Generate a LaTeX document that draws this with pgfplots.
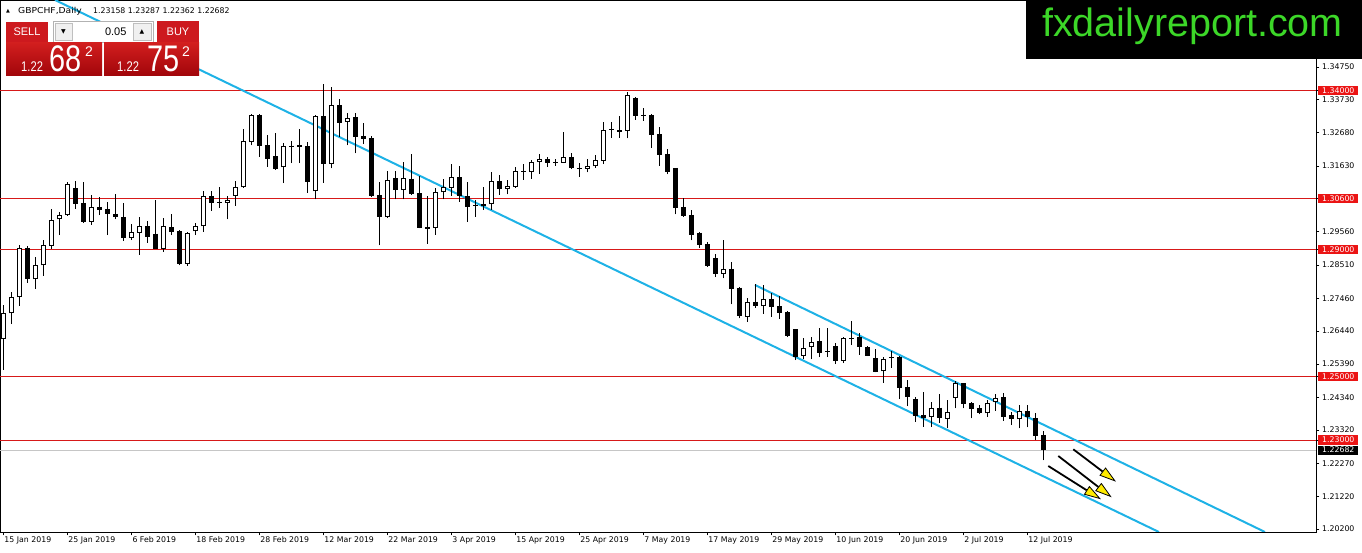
\documentclass[border=0pt]{standalone}
\usepackage{fontspec}
\setmainfont{DejaVu Sans}
\newfontfamily\logofont{Liberation Sans}
\usepackage{graphicx}
\usepackage{pgfplots}
\pgfplotsset{compat=1.18}
\usepackage{pgfplotstable}
\usetikzlibrary{arrows.meta}
\definecolor{chan}{RGB}{30,178,230}
\definecolor{lvl}{RGB}{215,25,25}
\definecolor{lbl}{RGB}{235,20,20}
\definecolor{logogreen}{RGB}{60,215,40}
\definecolor{btnred}{RGB}{205,25,30}
\definecolor{boxtop}{RGB}{210,30,30}
\definecolor{boxbot}{RGB}{160,5,10}
\definecolor{arrowyel}{RGB}{255,235,0}
\newcommand\tickfont{\fontsize{7.8pt}{9pt}\selectfont}

\pgfplotstableread{
x o h l c
0 1.2617 1.2725 1.2521 1.2699
1 1.2699 1.2766 1.2665 1.2751
2 1.2750 1.2914 1.2723 1.2905
4 1.2806 1.2877 1.2777 1.2850
5 1.2850 1.2930 1.2817 1.2913
6 1.2911 1.3027 1.2903 1.2992
7 1.2995 1.3018 1.2945 1.3008
8 1.3008 1.3113 1.3006 1.3106
11 1.2988 1.3071 1.2978 1.3033
16 1.2937 1.2980 1.2930 1.2955
17 1.2953 1.3002 1.2884 1.2973
20 1.2902 1.2998 1.2893 1.2973
23 1.2855 1.2955 1.2849 1.2951
24 1.2957 1.2985 1.2945 1.2973
25 1.2973 1.3084 1.2956 1.3068
28 1.3048 1.3070 1.2995 1.3055
29 1.3070 1.3116 1.3038 1.3096
30 1.3096 1.3279 1.3094 1.3241
31 1.3238 1.3328 1.3228 1.3324
35 1.3159 1.3237 1.3109 1.3225
39 1.3083 1.3323 1.3058 1.3320
41 1.3169 1.3411 1.3156 1.3355
43 1.3301 1.3329 1.3228 1.3313
48 1.3002 1.3146 1.2999 1.3119
50 1.3087 1.3175 1.3058 1.3124
54 1.2969 1.3094 1.2946 1.3080
55 1.3080 1.3121 1.3058 1.3098
56 1.3095 1.3169 1.3070 1.3128
61 1.3042 1.3144 1.3025 1.3116
63 1.3090 1.3119 1.3074 1.3099
64 1.3098 1.3161 1.3094 1.3146
66 1.3144 1.3181 1.3123 1.3176
67 1.3175 1.3201 1.3139 1.3184
70 1.3174 1.3270 1.3172 1.3191
73 1.3154 1.3185 1.3143 1.3163
74 1.3162 1.3198 1.3158 1.3181
75 1.3179 1.3303 1.3169 1.3276
78 1.3273 1.3397 1.3250 1.3387
90 1.2824 1.2930 1.2809 1.2839
93 1.2689 1.2746 1.2673 1.2734
95 1.2721 1.2788 1.2697 1.2743
100 1.2564 1.2620 1.2554 1.2591
101 1.2592 1.2625 1.2554 1.2610
105 1.2550 1.2625 1.2542 1.2620
110 1.2516 1.2562 1.2481 1.2555
116 1.2372 1.2421 1.2342 1.2402
118 1.2367 1.2426 1.2337 1.2389
119 1.2433 1.2487 1.2400 1.2479
123 1.2384 1.2426 1.2373 1.2416
124 1.2419 1.2444 1.2392 1.2433
127 1.2365 1.2410 1.2337 1.2392
}\bull

\pgfplotstableread{
x o h l c
3 1.2905 1.2911 1.2796 1.2808
9 1.3093 1.3115 1.3029 1.3044
10 1.3047 1.3113 1.2985 1.2987
12 1.3034 1.3065 1.3008 1.3026
13 1.3028 1.3050 1.2945 1.3013
14 1.3012 1.3075 1.2995 1.3002
15 1.3003 1.3046 1.2928 1.2936
18 1.2973 1.2990 1.2922 1.2940
19 1.2950 1.3056 1.2902 1.2903
21 1.2970 1.3012 1.2945 1.2956
22 1.2958 1.2961 1.2850 1.2855
26 1.3068 1.3084 1.3022 1.3046
27 1.3050 1.3096 1.3031 1.3047
32 1.3324 1.3327 1.3192 1.3227
33 1.3228 1.3260 1.3161 1.3186
34 1.3194 1.3266 1.3151 1.3155
36 1.3227 1.3242 1.3172 1.3224
37 1.3228 1.3279 1.3172 1.3222
38 1.3225 1.3238 1.3079 1.3114
40 1.3320 1.3421 1.3111 1.3169
42 1.3355 1.3373 1.3255 1.3300
44 1.3317 1.3330 1.3203 1.3255
45 1.3257 1.3300 1.3232 1.3248
46 1.3250 1.3258 1.3066 1.3069
47 1.3071 1.3112 1.2913 1.3002
49 1.3124 1.3146 1.3058 1.3087
51 1.3123 1.3201 1.3073 1.3075
52 1.3077 1.3131 1.2967 1.2969
53 1.2971 1.3070 1.2918 1.2964
57 1.3128 1.3162 1.3050 1.3068
58 1.3068 1.3114 1.2987 1.3033
59 1.3040 1.3055 1.3003 1.3036
60 1.3042 1.3096 1.3025 1.3038
62 1.3116 1.3134 1.3073 1.3090
65 1.3148 1.3169 1.3120 1.3143
68 1.3184 1.3192 1.3161 1.3174
69 1.3176 1.3186 1.3164 1.3173
71 1.3192 1.3203 1.3153 1.3156
72 1.3157 1.3172 1.3129 1.3154
76 1.3280 1.3303 1.3252 1.3276
77 1.3276 1.3320 1.3252 1.3271
79 1.3378 1.3381 1.3309 1.3322
80 1.3325 1.3347 1.3305 1.3322
81 1.3324 1.3326 1.3221 1.3261
82 1.3263 1.3286 1.3164 1.3198
83 1.3201 1.3217 1.3137 1.3144
84 1.3157 1.3158 1.3011 1.3032
85 1.3034 1.3061 1.3003 1.3007
86 1.3009 1.3024 1.2929 1.2946
87 1.2953 1.2954 1.2906 1.2914
88 1.2917 1.2923 1.2846 1.2848
89 1.2873 1.2886 1.2813 1.2823
91 1.2839 1.2862 1.2727 1.2775
92 1.2780 1.2783 1.2683 1.2690
94 1.2736 1.2791 1.2717 1.2721
96 1.2744 1.2762 1.2688 1.2720
97 1.2721 1.2754 1.2682 1.2701
98 1.2703 1.2707 1.2624 1.2628
99 1.2649 1.2651 1.2552 1.2561
102 1.2611 1.2652 1.2561 1.2575
103 1.2580 1.2652 1.2561 1.2577
104 1.2596 1.2607 1.2539 1.2550
106 1.2622 1.2675 1.2599 1.2619
107 1.2624 1.2636 1.2569 1.2594
108 1.2593 1.2596 1.2564 1.2566
109 1.2558 1.2588 1.2513 1.2515
111 1.2561 1.2580 1.2527 1.2557
112 1.2561 1.2565 1.2429 1.2465
113 1.2466 1.2489 1.2407 1.2434
114 1.2429 1.2436 1.2358 1.2376
115 1.2379 1.2452 1.2342 1.2368
117 1.2402 1.2445 1.2355 1.2368
120 1.2479 1.2481 1.2400 1.2413
121 1.2416 1.2420 1.2368 1.2397
122 1.2400 1.2410 1.2381 1.2384
125 1.2435 1.2449 1.2360 1.2374
126 1.2379 1.2389 1.2347 1.2365
128 1.2391 1.2410 1.2340 1.2372
129 1.2368 1.2384 1.2300 1.2313
130 1.23158 1.23287 1.22362 1.22682
}\bear

\begin{document}
\begin{tikzpicture}
\path[use as bounding box] (0pt,0pt) rectangle (1362pt,553pt);
\begin{axis}[
  at={(0pt,21pt)}, anchor=south west,
  scale only axis, width=1316pt, height=532pt,
  xmin=-0.4125, xmax=164.0875, ymin=1.201025, ymax=1.368605,
  clip mode=individual,
  axis line style={black, line width=0.8pt},
  tick style={black, line width=0.6pt},
  tick align=outside, major tick length=3.5pt,
  xtick pos=lower, ytick pos=right,
  xtick={0,8,...,128},
  xticklabels={15 Jan 2019, 25 Jan 2019, 6 Feb 2019, 18 Feb 2019, 28 Feb 2019, 12 Mar 2019, 22 Mar 2019, 3 Apr 2019, 15 Apr 2019, 25 Apr 2019, 7 May 2019, 17 May 2019, 29 May 2019, 10 Jun 2019, 20 Jun 2019, 2 Jul 2019, 12 Jul 2019},
  xticklabel style={anchor=north west, inner sep=0pt, xshift=1pt, yshift=-1pt, font=\tickfont},
  ytick={1.3475,1.3373,1.3268,1.3163,1.2956,1.2851,1.2746,1.2644,1.2539,1.2434,1.2332,1.2227,1.2122,1.2020},
  yticklabels={1.34750,1.33730,1.32680,1.31630,1.29560,1.28510,1.27460,1.26440,1.25390,1.24340,1.23320,1.22270,1.21220,1.20200},
  yticklabel style={anchor=west, inner sep=0pt, xshift=2.5pt, font=\tickfont},
  extra y ticks={1.34,1.306,1.29,1.25,1.23},
  extra y tick labels={1.34000,1.30600,1.29000,1.25000,1.23000},
  extra y tick style={grid=major, major grid style={lvl, line width=1pt},
     yticklabel style={fill=lbl, text=white, inner xsep=4pt, inner ysep=1.6pt, xshift=-4pt}},
]
\addplot[gray!45, line width=0.8pt] coordinates {(-0.4125,1.22682) (164.0875,1.22682)};
\addplot[chan, line width=2pt] coordinates {(6.4625,1.368605) (144.45,1.201025)};
\addplot[chan, line width=2pt] coordinates {(93.96,1.27883) (157.71,1.201025)};
% wicks
\addplot[black, line width=1pt, quiver={u=0, v=\thisrow{h}-\thisrow{l}}] table[x=x, y=l] {\bull};
\addplot[black, line width=1pt, quiver={u=0, v=\thisrow{h}-\thisrow{l}}] table[x=x, y=l] {\bear};
% bodies
\addplot[black, line width=5pt, quiver={u=0, v=\thisrow{c}-\thisrow{o}}] table[x=x, y=o] {\bear};
\addplot[black, line width=5pt, quiver={u=0, v=\thisrow{c}-\thisrow{o}}] table[x=x, y=o] {\bull};
\addplot[white, line width=3pt, quiver={u=0, v=\thisrow{c}-\thisrow{o}, every arrow/.append style={shorten <=1pt, shorten >=1pt}}] table[x=x, y=o] {\bull};
% arrows
\addplot[black, line width=1.8pt, -{Triangle[length=17pt, width=10pt, fill=arrowyel, line width=0.8pt]}] coordinates {(133.75,1.22708) (139.09,1.21687)};
\addplot[black, line width=1.8pt, -{Triangle[length=17pt, width=10pt, fill=arrowyel, line width=0.8pt]}] coordinates {(131.875,1.22497) (138.55,1.21196)};
\addplot[black, line width=1.8pt, -{Triangle[length=17pt, width=10pt, fill=arrowyel, line width=0.8pt]}] coordinates {(130.625,1.22182) (137.21,1.21133)};
\node[fill=black, text=white, anchor=west, inner xsep=4pt, inner ysep=1.6pt, font=\tickfont, xshift=2pt] at (axis cs:164.0875,1.22682) {1.22682};
\end{axis}
% logo
\fill[black] (1026pt,494pt) rectangle (1362pt,553pt);
\node[anchor=base, text=logogreen, font=\logofont\fontsize{39.5pt}{40pt}\selectfont, inner sep=0pt] at (1192.5pt,516pt) {fxdailyreport.com};
% header text
\node[font=\fontsize{5pt}{5pt}\selectfont, inner sep=0pt] at (8pt,542pt) {▲};
\node[anchor=base west, inner sep=0pt, font=\fontsize{8.2pt}{9pt}\selectfont] at (18pt,539pt) {\scalebox{1.12}[1]{GBPCHF,Daily}};
\node[anchor=base west, inner sep=0pt, font=\fontsize{7.8pt}{9pt}\selectfont] at (93pt,539pt) {1.23158 1.23287 1.22362 1.22682};
% trade panel
\fill[btnred] (6pt,511pt) rectangle (48pt,531pt);
\node[text=white, font=\logofont\fontsize{11pt}{11pt}\selectfont] at (27pt,521pt) {SELL};
\draw[gray!60, fill=white] (53pt,511pt) rectangle (153pt,532pt);
\draw[gray!50, fill=gray!12] (55pt,513pt) rectangle (72pt,530pt);
\node[font=\fontsize{6pt}{6pt}\selectfont] at (63.5pt,521.5pt) {▼};
\draw[gray!50, fill=gray!12] (133pt,513pt) rectangle (151pt,530pt);
\node[font=\fontsize{6pt}{6pt}\selectfont] at (142pt,521.5pt) {▲};
\node[anchor=east, font=\logofont\fontsize{11pt}{11pt}\selectfont] at (130pt,521pt) {0.05};
\fill[btnred] (157pt,511pt) rectangle (199pt,532pt);
\node[text=white, font=\logofont\fontsize{11pt}{11pt}\selectfont] at (178pt,521pt) {BUY};
\shade[top color=boxtop, bottom color=boxbot] (6pt,477pt) rectangle (102pt,510pt);
\shade[top color=boxtop, bottom color=boxbot] (104pt,477pt) rectangle (199pt,510pt);
\node[anchor=base west, text=white, inner sep=0pt, font=\logofont\fontsize{14pt}{14pt}\selectfont] at (21pt,481pt) {\scalebox{0.8}[1]{1.22}};
\node[anchor=base west, text=white, inner sep=0pt, font=\logofont\fontsize{37pt}{37pt}\selectfont] at (49pt,481pt) {\scalebox{0.78}[1]{68}};
\node[anchor=base west, text=white, inner sep=0pt, font=\logofont\fontsize{14pt}{14pt}\selectfont] at (85pt,496pt) {2};
\node[anchor=base west, text=white, inner sep=0pt, font=\logofont\fontsize{14pt}{14pt}\selectfont] at (117pt,481pt) {\scalebox{0.8}[1]{1.22}};
\node[anchor=base west, text=white, inner sep=0pt, font=\logofont\fontsize{37pt}{37pt}\selectfont] at (147pt,481pt) {\scalebox{0.78}[1]{75}};
\node[anchor=base west, text=white, inner sep=0pt, font=\logofont\fontsize{14pt}{14pt}\selectfont] at (182pt,496pt) {2};
\end{tikzpicture}
\end{document}
